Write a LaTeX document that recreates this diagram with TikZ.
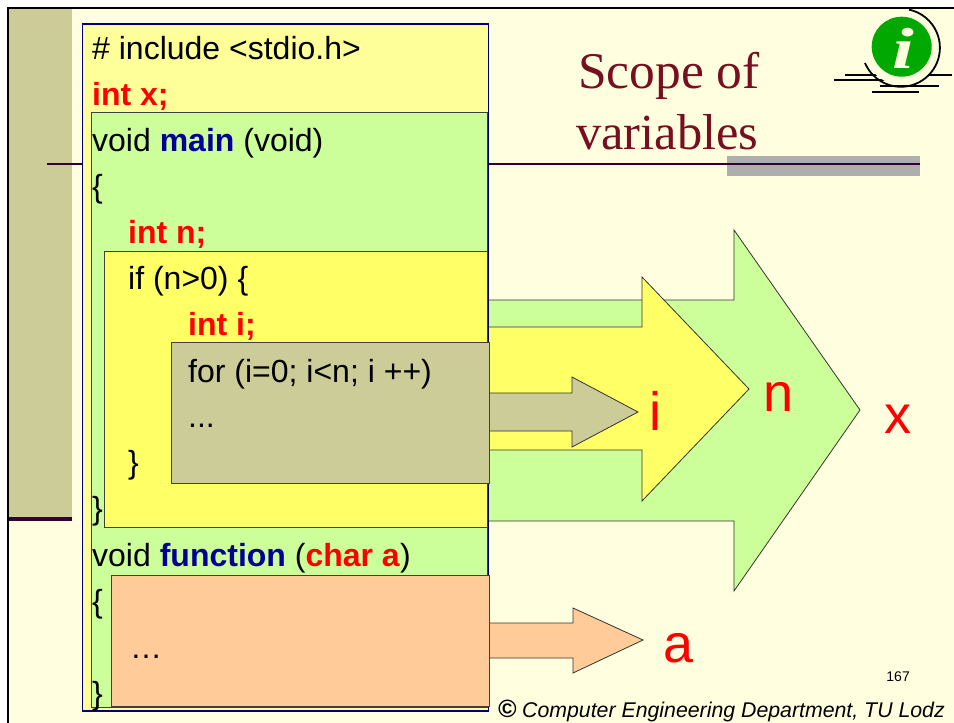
\documentclass[tikz,border=0pt]{standalone}
\usepackage{xcolor}
\usepackage{fontspec}
\usetikzlibrary{positioning}
\setmainfont{Liberation Sans}
\newfontfamily\titlefont{Liberation Serif}
\definecolor{slidecream}{RGB}{255, 255, 224}
\definecolor{sideolive}{RGB}{204, 204, 153}
\definecolor{palegold}{RGB}{255, 255, 153}
\definecolor{palegreen}{RGB}{204, 255, 153}
\definecolor{brightgold}{RGB}{255, 255, 102}
\definecolor{peach}{RGB}{255, 204, 153}
\definecolor{rulepurple}{RGB}{51, 0, 51}
\definecolor{rulegray}{RGB}{174, 174, 174}
\definecolor{titlered}{RGB}{119, 15, 32}
\definecolor{keynavy}{RGB}{0, 0, 153}
\definecolor{iconliner}{RGB}{0, 168, 0}

\begin{document}
\begin{tikzpicture}[
    x=1pt, y=-1pt,
    scopebox/.style={rectangle, anchor=north west, inner sep=0pt, outer sep=0pt, draw=black!75, line width=0.8pt},
    scopearrow/.style={draw=black!80, line width=0.8pt, line join=miter},
    code/.style={anchor=base west, inner sep=0pt, font=\fontsize{32}{36}\selectfont},
    varname/.style={anchor=base, inner sep=0pt, text=red, font=\fontsize{54}{60}\selectfont},
    iconrule/.style={line width=1.8pt, black}
]
    \useasboundingbox (0,0) rectangle (954,723);

    % slide background
    \fill[white] (0,0) rectangle (954,723);
    \fill[slidecream] (8,8) rectangle (954,723);
    \fill[sideolive] (9,9) rectangle (72,519);
    \fill[rulegray] (727,156) rectangle (920,176);
    \draw[rulepurple, line width=1.5pt] (47,164) -- (920,164);
    \draw[rulepurple, line width=4pt] (8,519) -- (72,519);
    \draw[black, line width=2.5pt] (954,8) -- (8,8) -- (8,723);

    % arrows
    \draw[scopearrow, fill=palegreen] (487,300) -- (734,300) -- (734,230) -- (860,410) -- (734,591) -- (734,521) -- (487,521) -- cycle;
    \draw[scopearrow, fill=brightgold] (487,327) -- (642,327) -- (642,277) -- (749,389) -- (642,501) -- (642,450) -- (487,450) -- cycle;
    \draw[scopearrow, fill=sideolive] (487,393) -- (572,393) -- (572,377) -- (638,412) -- (572,447) -- (572,431) -- (487,431) -- cycle;
    \draw[scopearrow, fill=peach] (487,623) -- (573,623) -- (573,608) -- (643,640) -- (573,673) -- (573,658) -- (487,658) -- cycle;

    % nested boxes
    \node[scopebox, fill=palegold, draw=keynavy!80!black, line width=1.2pt, minimum width=406pt, minimum height=687pt] (filebox) at (82.5,24) {};
    \node[scopebox, fill=palegreen, minimum width=396pt, minimum height=595pt] (mainbox) at (91.5,112.5) {};
    \node[scopebox, fill=brightgold, minimum width=382.5pt, minimum height=276pt] (ifbox) at (104.5,251) {};
    \node[scopebox, fill=sideolive, minimum width=318pt, minimum height=141pt] (forbox) at (171,342) {};
    \node[scopebox, fill=peach, minimum width=378pt, minimum height=131pt] (funcbox) at (111,575) {};

    % code lines
    \node[code] (include) at (92,59) {\# include <stdio.h>};
    \node[code, text=red] (intx) at (92,105) {\textbf{int x;}};
    \node[code] (mainhead) at (92,151) {void \textcolor{keynavy}{\textbf{main}} (void)};
    \node[code] (mainopen) at (92,197) {\{};
    \node[code, text=red] (intn) at (128,243) {\textbf{int n;}};
    \node[code] (ifhead) at (128,289) {if (n>0) \{};
    \node[code, text=red] (inti) at (188,335) {\textbf{int i;}};
    \node[code] (forhead) at (188,382) {for (i=0; i<n; i ++)};
    \node[code] (fordots) at (188,427) {...};
    \node[code] (ifclose) at (128,473) {\}};
    \node[code] (mainclose) at (92,519) {\}};
    \node[code] (funchead) at (92,566) {void \textcolor{keynavy}{\textbf{function}} (\textcolor{red}{\textbf{char a}})};
    \node[code] (funcopen) at (92,612) {\{};
    \node[code] (funcdots) at (130,658) {…};
    \node[code] (funcclose) at (92,704) {\}};

    % variable names
    \node[varname] (vari) at (655,430) {i};
    \node[varname] (varn) at (779,411) {n};
    \node[varname] (varx) at (898,433) {x};
    \node[varname] (vara) at (679,662) {a};

    % title
    \node[anchor=base west, inner sep=0pt, text=titlered, font=\titlefont\fontsize{51.5}{56}\selectfont] (titleone) at (578,88) {Scope of};
    \node[anchor=base west, inner sep=0pt, text=titlered, font=\titlefont\fontsize{50.5}{56}\selectfont] (titletwo) at (576,149) {variables};

    % info icon
    \draw[iconrule] (845,75) -- (952,75);
    \draw[iconrule] (834,80) -- (890,80);
    \draw[iconrule] (880,86) -- (939,86);
    \draw[iconrule, line width=2.6pt] (872,92) -- (919,92);
    \fill[slidecream] (902,47) circle[radius=38];
    \draw[black, line width=1.8pt] (865,63) arc[start angle=157, end angle=-78, radius=39];
    \node[circle, fill=iconliner, minimum size=60pt, inner sep=0pt] (iconball) at (901.7,46.7) {};
    \node[inner sep=0pt, text=slidecream, font=\titlefont\bfseries\itshape\fontsize{58}{58}\selectfont] (iconletter) at (903,48) {\scalebox{1.35}[1]{i}};

    % footer
    \node[anchor=base east, inner sep=0pt, font=\fontsize{14}{16}\selectfont] (pagenum) at (910,681) {167};
    \node[anchor=base east, inner sep=0pt, font=\itshape\fontsize{21.3}{24}\selectfont] (footer) at (945,717) {\textbf{\fontsize{25}{24}\selectfont ©} Computer Engineering Department, TU Lodz};
\end{tikzpicture}
\end{document}
